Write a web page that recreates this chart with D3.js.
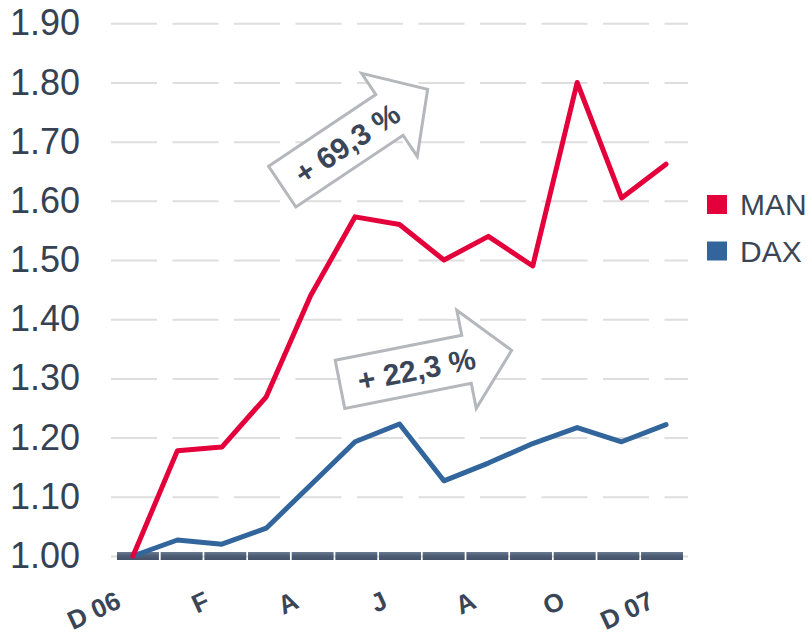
<!DOCTYPE html>
<html>
<head>
<meta charset="utf-8">
<script src="https://cdn.jsdelivr.net/npm/d3@7"></script>
<style>
  html, body { margin: 0; padding: 0; background: #fff; }
  svg { display: block; font-family: "Liberation Sans", Arial, sans-serif; }
</style>
</head>
<body>
<div id="chart"></div>
<script>
// monthly index values, Dec 2006 = 1.00
const months = ["Dec06", "Jan07", "Feb07", "Mar07", "Apr07", "May07", "Jun07",
                "Jul07", "Aug07", "Sep07", "Oct07", "Nov07", "Dec07"]
const man = [1.00, 1.178, 1.184, 1.269, 1.44, 1.573, 1.560, 1.50, 1.54, 1.49, 1.80, 1.605, 1.662]
const dax = [1.00, 1.027, 1.020, 1.047, 1.12, 1.193, 1.223, 1.127, 1.157, 1.19, 1.217, 1.193, 1.222]
const baseline = months.map(() => 1.00)

const tickMonths = ["Dec06", "Feb07", "Apr07", "Jun07", "Aug07", "Oct07", "Dec07"]
const tickLabels = ["D 06", "F", "A", "J", "A", "O", "D 07"]
const yTicks = [1.0, 1.1, 1.2, 1.3, 1.4, 1.5, 1.6, 1.7, 1.8, 1.9]

const seriesNames = ["MAN", "DAX"]
const seriesColors = ["#e4003b", "#31659b"]

// arrow annotations (position in month steps / index value)
const notes = [
  { label: "+ 69,3 %", at: 3.36, value: 1.624, angle: -33.8 },
  { label: "+ 22,3 %", at: 4.66, value: 1.290, angle: -11.2 }
]

const W = 812, H = 638
const textColor = "#3a4657"

const svg = d3.select("#chart").append("svg")
  .attr("width", W)
  .attr("height", H)

const defs = svg.append("defs")
const grad = defs.append("linearGradient")
  .attr("id", "baseGrad")
  .attr("x1", 0).attr("y1", 0).attr("x2", 0).attr("y2", 1)
grad.append("stop").attr("offset", "0%").attr("stop-color", "#6a7a90")
grad.append("stop").attr("offset", "45%").attr("stop-color", "#4e5e76")
grad.append("stop").attr("offset", "100%").attr("stop-color", "#44536a")

const x = d3.scalePoint().domain(months).range([133, 666])
const xBand = d3.scaleBand().domain(months).range([117, 683]).paddingInner(0.04)
const y = d3.scaleLinear().domain([1.0, 1.9]).range([556, 23.3])

// y axis with dashed gridlines
const yAxis = svg.append("g")
  .attr("transform", "translate(111,0)")
  .call(d3.axisLeft(y)
    .tickValues(yTicks)
    .tickFormat(d3.format(".2f"))
    .tickSize(-577)
    .tickPadding(31))
yAxis.select(".domain").remove()
yAxis.selectAll(".tick line")
  .attr("stroke", "#dedede")
  .attr("stroke-width", 2)
  .attr("stroke-dasharray", "46 15.5")
yAxis.selectAll(".tick text")
  .attr("fill", "#364253")
  .attr("font-size", 36)
  .attr("font-family", "Liberation Sans, Arial, sans-serif")

// baseline segments
svg.append("g").selectAll("rect")
  .data(baseline)
  .join("rect")
  .attr("x", (d, i) => xBand(months[i]))
  .attr("width", xBand.bandwidth())
  .attr("y", d => y(d) - 4)
  .attr("height", 8)
  .attr("fill", "url(#baseGrad)")

// x axis labels
const xAxis = svg.append("g")
  .call(d3.axisBottom(x)
    .tickValues(tickMonths)
    .tickFormat((d, i) => tickLabels[i])
    .tickSize(0))
xAxis.select(".domain").remove()
xAxis.selectAll(".tick text")
  .attr("fill", textColor)
  .attr("font-size", 26)
  .attr("font-weight", "bold")
  .attr("font-family", "Liberation Sans, Arial, sans-serif")
  .attr("text-anchor", "end")
  .attr("dy", null)
  .attr("y", null)
  .attr("transform", "translate(-11,607) rotate(-25)")

// lines
const line = d3.line()
  .x((d, i) => x(months[i]))
  .y(d => y(d))

svg.append("g").selectAll("path")
  .data([dax, man])
  .join("path")
  .attr("d", line)
  .attr("fill", "none")
  .attr("stroke", (d, i) => i === 0 ? seriesColors[1] : seriesColors[0])
  .attr("stroke-width", 5)
  .attr("stroke-linejoin", "round")
  .attr("stroke-linecap", "round")

// arrows
const arrowShape = [[0, -24.5], [129, -24.5], [129, -50], [175, 0], [129, 50], [129, 24.5], [0, 24.5]]
const noteG = svg.append("g").selectAll("g")
  .data(notes)
  .join("g")
  .attr("transform", d => `translate(${x(months[0]) + d.at * x.step()},${y(d.value)}) rotate(${d.angle})`)
noteG.append("path")
  .attr("d", d3.line()(arrowShape) + "Z")
  .attr("fill", "#fff")
  .attr("stroke", "#b4b8bc")
  .attr("stroke-width", 3)
  .attr("stroke-linejoin", "miter")
noteG.append("text")
  .attr("x", 78)
  .attr("y", 0)
  .attr("dy", "0.36em")
  .attr("text-anchor", "middle")
  .attr("font-size", 30)
  .attr("font-weight", "bold")
  .attr("fill", textColor)
  .text(d => d.label)

// legend
const legend = svg.append("g").selectAll("g")
  .data(seriesNames)
  .join("g")
  .attr("transform", (d, i) => `translate(707,${195 + i * 46.5})`)
legend.append("rect")
  .attr("width", 20)
  .attr("height", 19)
  .attr("fill", (d, i) => seriesColors[i])
legend.append("text")
  .attr("x", 33)
  .attr("y", 9.5)
  .attr("dy", "0.36em")
  .attr("font-size", 30)
  .attr("fill", textColor)
  .text(d => d)
</script>
</body>
</html>
